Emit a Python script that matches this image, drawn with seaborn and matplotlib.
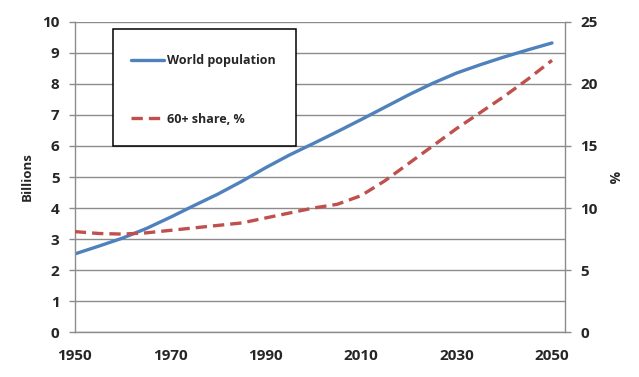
import numpy as np
import pandas as pd
import matplotlib
matplotlib.use("Agg")
import matplotlib.pyplot as plt
import seaborn as sns
from matplotlib.lines import Line2D
from matplotlib.patches import Rectangle

# ---- data ----
years = [1950, 1955, 1960, 1965, 1970, 1975, 1980, 1985, 1990, 1995, 2000,
         2005, 2010, 2015, 2020, 2025, 2030, 2035, 2040, 2045, 2050]
world_pop = [2.52, 2.77, 3.03, 3.34, 3.70, 4.08, 4.45, 4.86, 5.30, 5.71, 6.08,
             6.46, 6.85, 7.25, 7.65, 8.02, 8.35, 8.62, 8.87, 9.10, 9.32]
share_60 = [8.1, 7.95, 7.9, 8.0, 8.2, 8.4, 8.6, 8.8, 9.2, 9.6, 10.0,
            10.3, 11.0, 12.2, 13.6, 15.0, 16.4, 17.7, 19.0, 20.4, 21.9]
x_ticks = [1950, 1960, 1970, 1980, 1990, 2000, 2010, 2020, 2030, 2040, 2050]
x_labels = ["1950", "", "1970", "", "1990", "", "2010", "", "2030", "", "2050"]
left_ticks = list(range(0, 11))
right_ticks = [0, 5, 10, 15, 20, 25]

BLUE = "#4F81BD"
RED = "#C0504D"
GRID = "#8C8C8C"

sns.set_style("white")
plt.rcParams["font.family"] = ["Open Sans", "DejaVu Sans"]
plt.rcParams["font.weight"] = "bold"

df = pd.DataFrame({"year": years, "pop": world_pop, "share": share_60})

fig = plt.figure(figsize=(6.39, 3.77), dpi=100)
ax = fig.add_axes([0.117, 0.119, 0.767, 0.823])
ax2 = ax.twinx()

sns.lineplot(data=df, x="year", y="pop", ax=ax, color=BLUE, lw=2.4)
sns.lineplot(data=df, x="year", y="share", ax=ax2, color=RED, lw=2.4,
             linestyle=(0, (3.4, 1.8)))

ax.set_xlim(1950, 2052.7)
ax.set_ylim(0, 10)
ax2.set_ylim(0, 25)
ax.set_xticks(x_ticks)
ax.set_xticklabels(x_labels)
ax.set_yticks(left_ticks)
ax2.set_yticks(right_ticks)

ax.grid(axis="y", color=GRID, lw=1.0)
ax.set_axisbelow(True)

for a in (ax, ax2):
    a.spines["top"].set_visible(False)
    for s in ("left", "right", "bottom"):
        a.spines[s].set_color(GRID)
        a.spines[s].set_linewidth(1.0)
    a.tick_params(axis="both", direction="out", length=4, width=1.0,
                  color=GRID, labelsize=11, pad=7)
ax.tick_params(axis="x", pad=8)
ax.spines["right"].set_visible(False)
ax2.spines["left"].set_visible(False)
ax2.spines["bottom"].set_visible(False)

ax.set_xlabel("")
ax.set_ylabel("Billions", fontsize=9.5, fontweight="bold", labelpad=6)
ax2.set_ylabel("%", fontsize=10, fontweight="bold", rotation=270, labelpad=16)

# legend box (fixed frame) with a frameless legend inside
box = Rectangle((113 / 639, 1 - 146 / 377), 183 / 639, 117 / 377,
                transform=fig.transFigure, facecolor="white",
                edgecolor="black", lw=1.1, zorder=5, clip_on=False)
ax2.add_patch(box)

handles = [Line2D([], [], color=BLUE, lw=2.4),
           Line2D([], [], color=RED, lw=2.4, linestyle=(0, (3.4, 1.8)))]
leg = ax2.legend(handles, ["World population", "60+ share, %"],
                 loc="upper left", bbox_to_anchor=(131 / 639, 1 - 54 / 377),
                 bbox_transform=fig.transFigure, frameon=False,
                 prop={"size": 9, "weight": "bold"}, handlelength=2.65,
                 handletextpad=0.25, labelspacing=3.65, borderpad=0,
                 borderaxespad=0)
leg.set_zorder(6)

fig.savefig("out.png", dpi=100)
